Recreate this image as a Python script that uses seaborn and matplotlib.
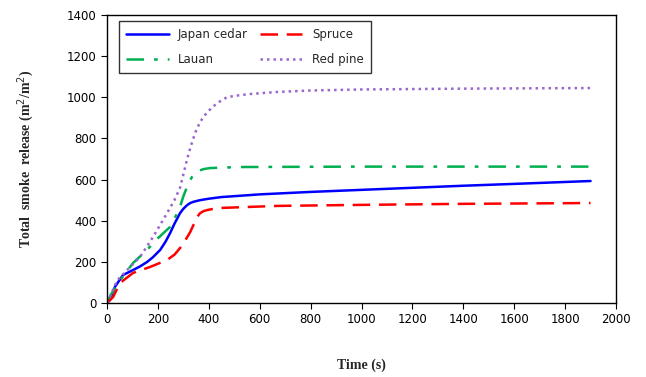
import matplotlib
matplotlib.use("Agg")
import matplotlib.pyplot as plt
import seaborn as sns
import pandas as pd

# -----------------------------------------------------
# Data
# -----------------------------------------------------
cedar_t = [0, 12, 31, 63, 102, 130, 157, 180, 209, 230, 248, 265, 287, 300, 315, 327, 340, 366, 400,
           450, 600, 800, 1000, 1200, 1400, 1600, 1900]
cedar_v = [0, 15, 78, 136, 160, 178, 199, 222, 258, 298, 340, 385, 437, 458, 476, 486, 492, 500, 507,
           515, 528, 540, 550, 560, 570, 579, 593]

spruce_t = [0, 24, 51, 102, 169, 236, 265, 287, 300, 315, 327, 340, 354, 366, 380, 394, 420, 445,
            669, 1000, 1400, 1900]
spruce_v = [0, 29, 97, 146, 175, 209, 235, 267, 290, 320, 345, 380, 418, 437, 447, 452, 458, 462,
            472, 477, 482, 486]

lauan_t = [0, 15, 51, 102, 157, 201, 248, 276, 287, 299, 313, 327, 340, 358, 380, 405, 524, 1000, 1900]
lauan_v = [0, 40, 110, 194, 258, 316, 370, 437, 467, 515, 560, 598, 625, 642, 651, 656, 661, 663, 663]

pine_t = [0, 15, 40, 79, 130, 181, 236, 265, 287, 300, 315, 330, 346, 362, 378, 400, 433, 472, 520,
          563, 669, 800, 1000, 1400, 1900]
pine_v = [0, 40, 110, 160, 224, 321, 437, 500, 560, 625, 700, 765, 826, 870, 904, 935, 972, 1001, 1010,
          1016, 1026, 1033, 1038, 1042, 1045]

x_ticks = [0, 200, 400, 600, 800, 1000, 1200, 1400, 1600, 1800, 2000]
y_ticks = [0, 200, 400, 600, 800, 1000, 1200, 1400]

series = [
    ("Japan cedar", cedar_t, cedar_v, "#0000FF", "-"),
    ("Lauan", lauan_t, lauan_v, "#00B050", (0, (7, 4, 1.5, 4))),
    ("Spruce", spruce_t, spruce_v, "#FF0000", (0, (7, 3.5))),
    ("Red pine", pine_t, pine_v, "#9966CC", (0, (1, 1.6))),
]

# -----------------------------------------------------
# Plot
# -----------------------------------------------------
sns.set_style("ticks")
plt.rcParams["font.family"] = ["DejaVu Sans"]

fig = plt.figure(figsize=(6.46, 3.77), dpi=100)
ax = fig.add_axes([107 / 646, 1 - 303 / 377, (616 - 107) / 646, (303 - 15) / 377])

for name, t, v, color, ls in series:
    df = pd.DataFrame({"t": t, "v": v})
    sns.lineplot(data=df, x="t", y="v", ax=ax, color=color, linestyle=ls,
                 linewidth=1.8, label=name, solid_joinstyle="round", dash_joinstyle="round")

ax.set_xlim(0, 2000)
ax.set_ylim(0, 1400)
ax.set_xticks(x_ticks)
ax.set_yticks(y_ticks)
ax.tick_params(direction="out", length=4, width=0.8, labelsize=8.5, colors="black")
for s in ax.spines.values():
    s.set_color("black")
    s.set_linewidth(1.0)

ax.set_xlabel("Time (s)", family="Liberation Serif", fontweight="bold", fontsize=10, labelpad=23)
ax.set_ylabel("Total  smoke  release (m$^2$/m$^2$)", family="Liberation Serif",
              fontweight="bold", fontsize=10, labelpad=22)

leg = ax.legend(ncol=2, loc="upper left", bbox_to_anchor=(0.0236, 0.979), borderaxespad=0,
                fontsize=8.5, frameon=True, fancybox=False, edgecolor="black", handlelength=3.6,
                columnspacing=1.0, borderpad=0.6, labelspacing=1.0)
leg.get_frame().set_linewidth(1.0)

fig.savefig("out.png", dpi=100)
